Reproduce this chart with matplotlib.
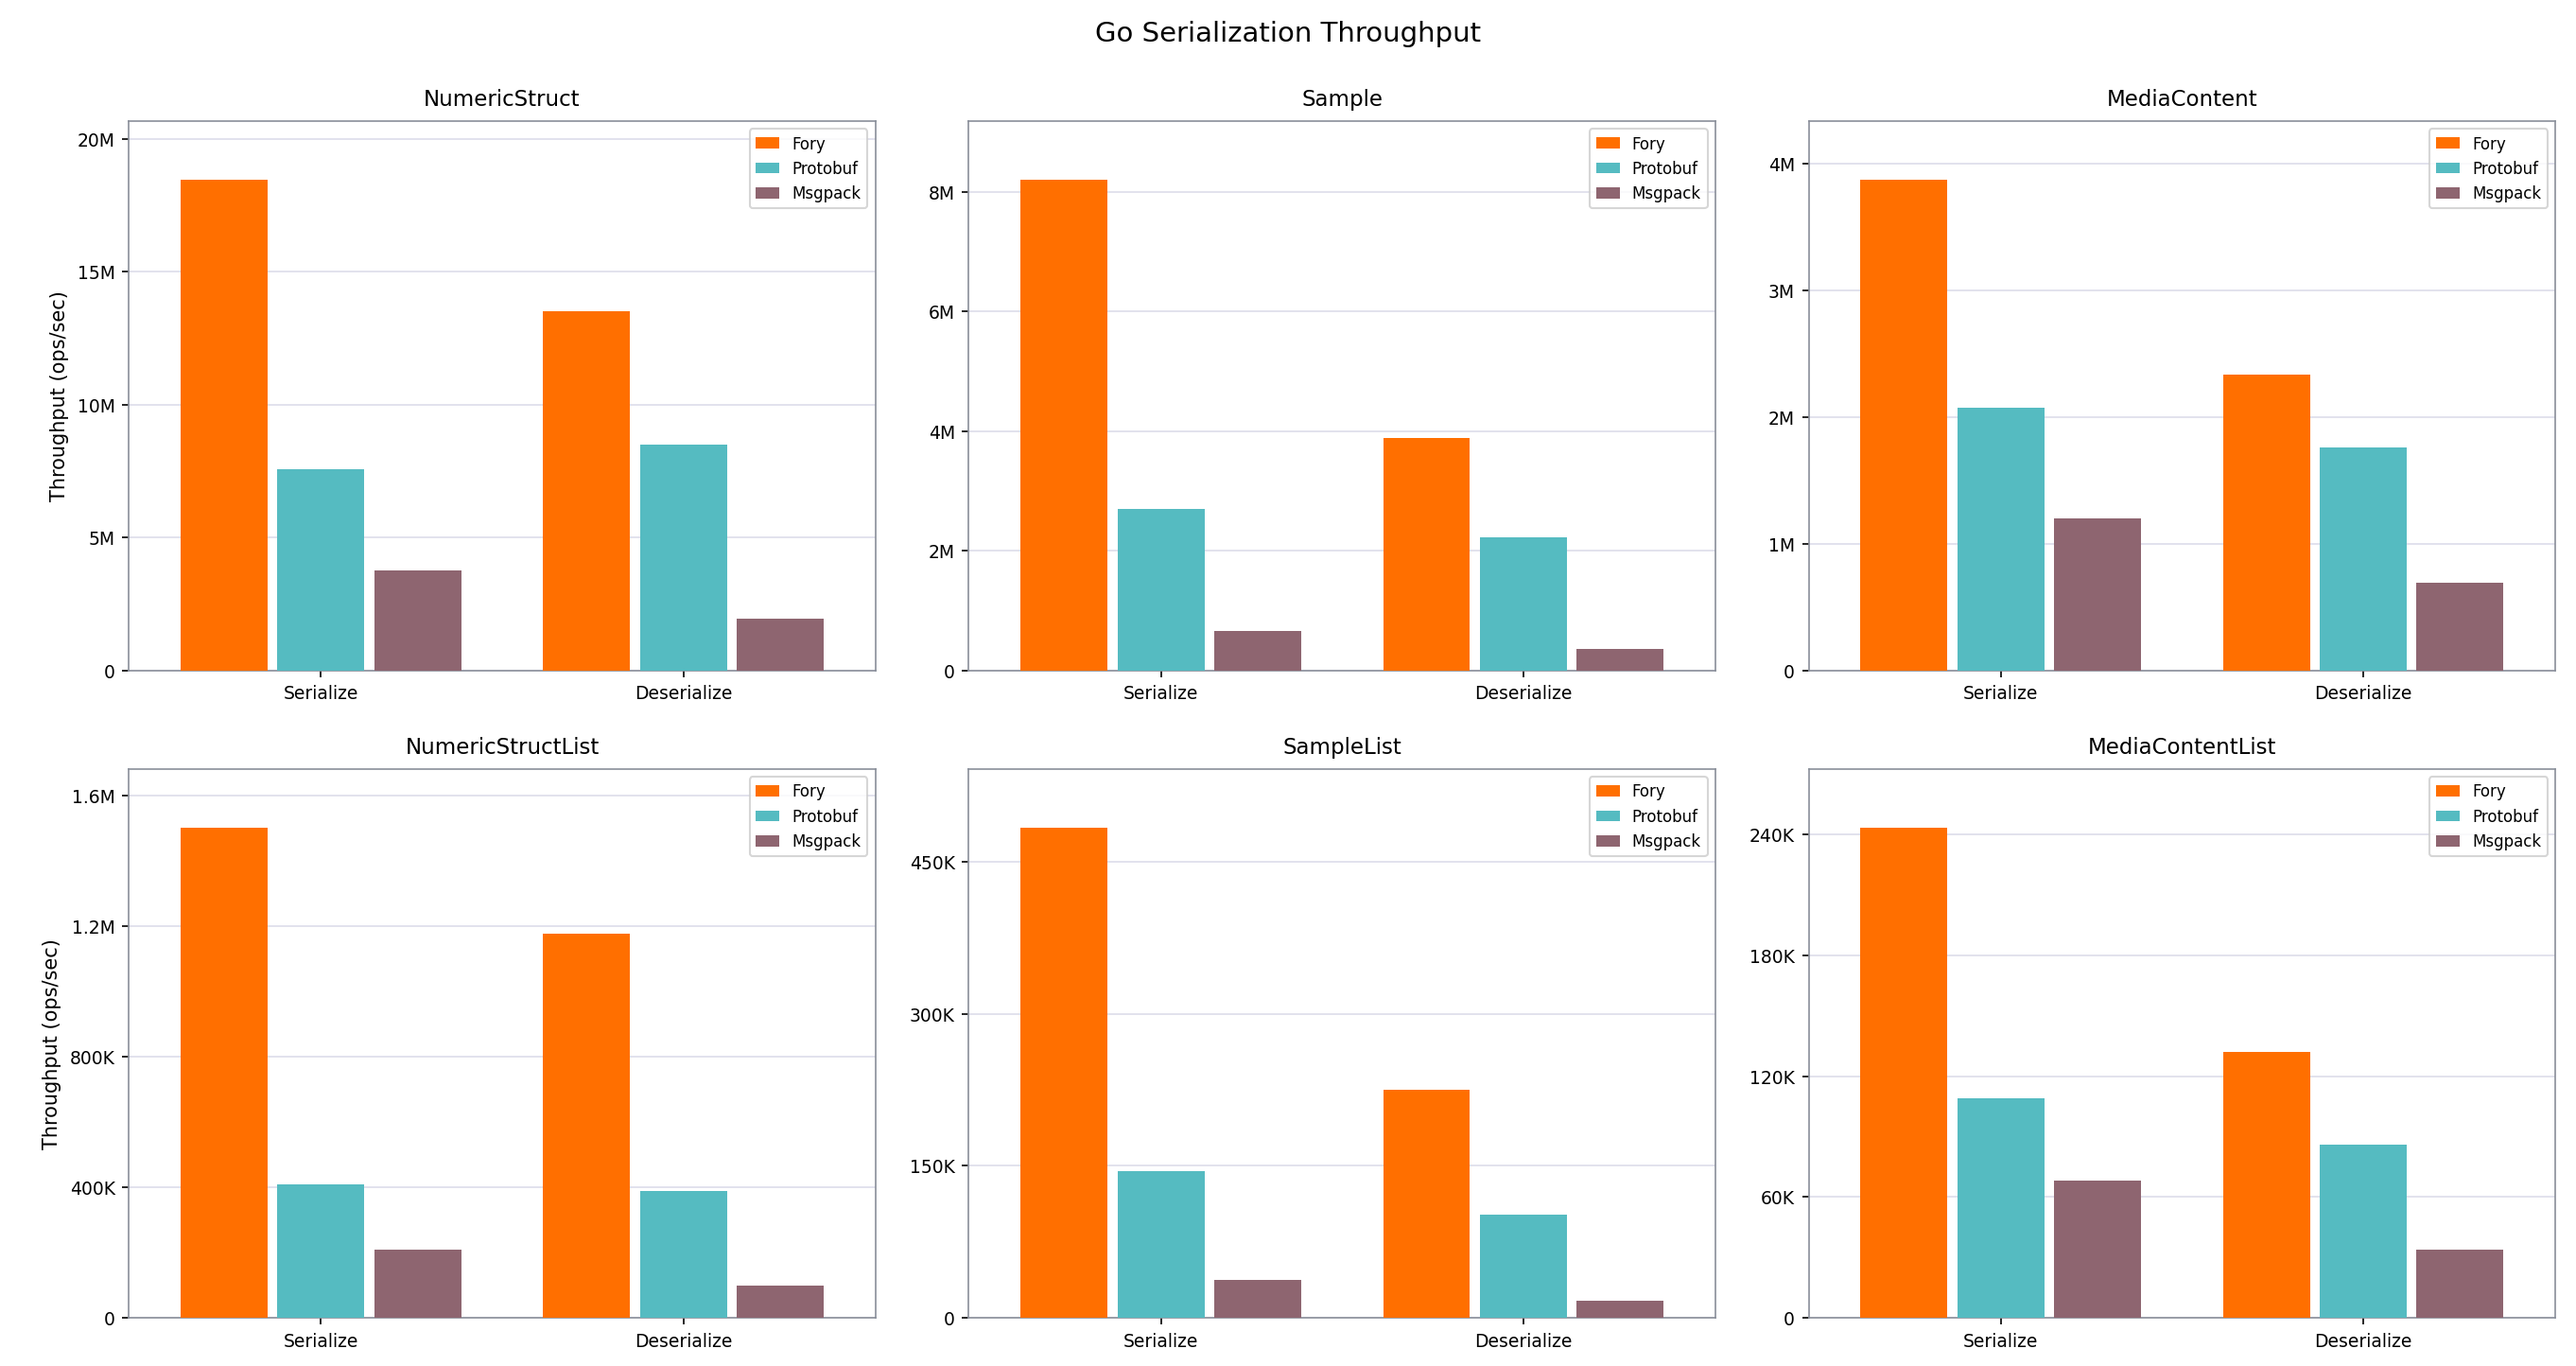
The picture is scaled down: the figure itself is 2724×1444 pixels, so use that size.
import numpy as np
import matplotlib.pyplot as plt
from matplotlib.ticker import FuncFormatter, MultipleLocator

benchmarks = ["NumericStruct", "Sample", "MediaContent",
              "NumericStructList", "SampleList", "MediaContentList"]
operations = ["Serialize", "Deserialize"]
libs = ["Fory", "Protobuf", "Msgpack"]
colors = ["#FF6F00", "#55BBC1", "#8E6570"]

# ops/sec, [Serialize, Deserialize]
fory = [[18.45e6, 13.5e6], [8.2e6, 3.88e6], [3.87e6, 2.33e6],
        [1.5e6, 1.175e6], [483e3, 225e3], [243e3, 132e3]]
protobuf = [[7.55e6, 8.5e6], [2.7e6, 2.22e6], [2.07e6, 1.76e6],
            [410e3, 390e3], [145e3, 102e3], [109e3, 86e3]]
msgpack = [[3.75e6, 1.95e6], [0.65e6, 0.36e6], [1.2e6, 0.69e6],
           [210e3, 100e3], [38e3, 17e3], [68e3, 34e3]]
tick_steps = [5e6, 2e6, 1e6, 400e3, 150e3, 60e3]


def fmt(v, pos):
    if v == 0:
        return "0"
    if abs(v) >= 1e6:
        s = f"{v / 1e6:.1f}".rstrip("0").rstrip(".")
        return s + "M"
    s = f"{v / 1e3:.1f}".rstrip("0").rstrip(".")
    return s + "K"


fig, axes = plt.subplots(2, 3, figsize=(18.16, 9.63), dpi=150)
fig.subplots_adjust(left=0.050, right=0.992, top=0.911, bottom=0.035,
                    wspace=0.125, hspace=0.18)
x = np.arange(len(operations))
w = 0.24
off = 0.267

for i, ax in enumerate(axes.flat):
    series = [fory[i], protobuf[i], msgpack[i]]
    for j, (lib, vals) in enumerate(zip(libs, series)):
        ax.bar(x + (j - 1) * off, vals, w, color=colors[j], label=lib, zorder=3)
    ax.set_title(benchmarks[i], fontsize=11, pad=8)
    ax.set_xticks(x)
    ax.set_xticklabels(operations)
    ax.set_xlim(-0.53, 1.53)
    ax.set_ylim(0, max(fory[i]) * 1.12)
    ax.yaxis.set_major_locator(MultipleLocator(tick_steps[i]))
    ax.yaxis.set_major_formatter(FuncFormatter(fmt))
    ax.grid(axis="y", color="#DDDDEA", lw=0.8, zorder=0)
    for sp in ax.spines.values():
        sp.set_color("#8A8F9A")
    ax.tick_params(labelsize=9)
    ax.legend(loc="upper right", fontsize=8, handlelength=1.5)
    if i % 3 == 0:
        ax.set_ylabel("Throughput (ops/sec)", fontsize=10)

fig.suptitle("Go Serialization Throughput", fontsize=14, y=0.985)
fig.savefig("out.png", dpi=150)
